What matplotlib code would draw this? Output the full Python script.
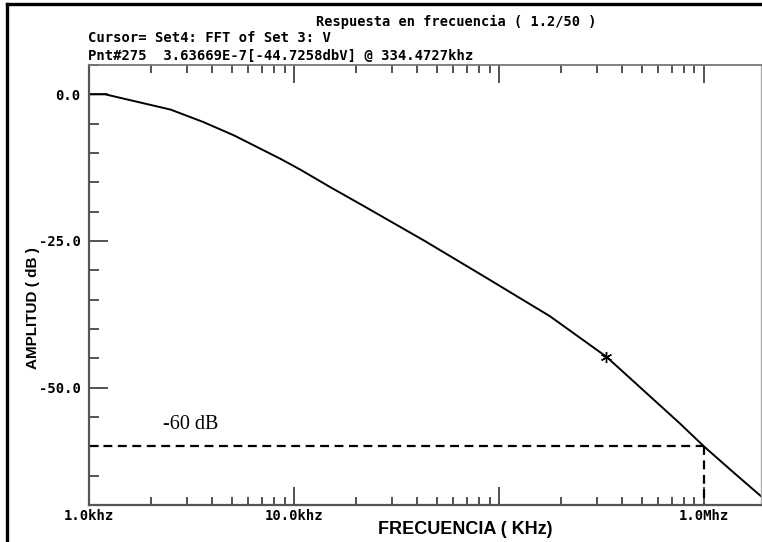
import matplotlib
matplotlib.use("Agg")
import matplotlib.pyplot as plt
from matplotlib.lines import Line2D
from matplotlib.font_manager import FontProperties
from matplotlib.ticker import FixedLocator, FixedFormatter, LogLocator, NullFormatter, MultipleLocator

# frequency response (kHz, dB)
freq_khz = [1.0, 1.2, 2.5, 3.6, 5.1, 8.6, 10.7, 15.0, 21.8, 43.5, 87.1, 177.0,
            334.4727, 764.0, 1000.0, 1390.0, 1900.0]
amp_db = [0.0, 0.0, -2.6, -4.7, -7.0, -11.0, -12.8, -15.8, -19.0, -25.0, -31.3, -37.8,
          -44.7258, -56.1, -60.0, -64.4, -68.5]

cursor_f = 334.4727
cursor_db = -44.7258
ref_db = -60.0
ref_f = 1000.0

x_ticks = [1.0, 10.0, 100.0, 1000.0]
x_ticklabels = ["1.0khz", "10.0khz", "", "1.0Mhz"]
y_ticks = [0.0, -25.0, -50.0]
y_ticklabels = ["0.0", "-25.0", "-50.0"]

mono = dict(family="DejaVu Sans Mono", weight="bold")
narrow = ["Liberation Sans Narrow", "Liberation Sans", "DejaVu Sans"]

W, H = 762, 542
fig = plt.figure(figsize=(W / 100, H / 100), dpi=100)
ax = fig.add_axes([89 / W, 1 - 505 / H, (761 - 89) / W, (505 - 65) / H])

ax.plot(freq_khz, amp_db, color="black", lw=1.4)
ax.plot([cursor_f], [cursor_db], marker=(6, 2, 0), ms=8, mew=1.0, color="black")

# -60 dB reference lines
ax.plot([freq_khz[0], ref_f], [ref_db, ref_db], color="black", lw=1.6, dashes=(4, 2.5))
ax.plot([ref_f, ref_f], [ref_db, -70], color="black", lw=1.6, dashes=(4, 2.5))
ax.text(2.3, -56.2, "-60 dB", family="Liberation Serif", fontsize=14.5, va="center", ha="left")

ax.set_xscale("log")
ax.set_xlim(1.0, 1900.0)
ax.set_ylim(-70, 5)

ax.xaxis.set_major_locator(FixedLocator(x_ticks))
ax.xaxis.set_major_formatter(FixedFormatter(x_ticklabels))
ax.xaxis.set_minor_locator(LogLocator(base=10, subs=range(2, 10)))
ax.xaxis.set_minor_formatter(NullFormatter())
ax.yaxis.set_major_locator(FixedLocator(y_ticks))
ax.yaxis.set_major_formatter(FixedFormatter(y_ticklabels))
ax.yaxis.set_minor_locator(MultipleLocator(5))

ax.tick_params(axis="x", which="both", direction="in", top=True, bottom=True,
               color="#444444", width=1.3, pad=3)
ax.tick_params(axis="x", which="major", length=13)
ax.tick_params(axis="x", which="minor", length=6)
ax.tick_params(axis="y", which="both", direction="in", left=True, right=False,
               color="#444444", width=1.3, pad=6)
ax.tick_params(axis="y", which="major", length=14)
ax.tick_params(axis="y", which="minor", length=7)
for lbl in ax.get_xticklabels() + ax.get_yticklabels():
    lbl.set_fontproperties(FontProperties(**mono, size=10))

for side, col, w in [("left", "#555555", 1.6), ("bottom", "#555555", 1.6),
                     ("top", "#777777", 1.3), ("right", "#aaaaaa", 1.0)]:
    ax.spines[side].set_color(col)
    ax.spines[side].set_linewidth(w)

fig.text(456 / W, 1 - 22 / H, "Respuesta en frecuencia ( 1.2/50 )", ha="center", va="center",
         fontsize=9.8, **mono)
fig.text(88 / W, 1 - 38 / H, "Cursor= Set4: FFT of Set 3: V", ha="left", va="center",
         fontsize=10, **mono)
fig.text(88 / W, 1 - 56 / H, "Pnt#275  3.63669E-7[-44.7258dbV] @ 334.4727khz", ha="left",
         va="center", fontsize=10, **mono)
fig.text(465 / W, 1 - 530 / H, "FRECUENCIA ( KHz)", ha="center", va="center",
         fontsize=13, family=narrow, weight="bold")
fig.text(33 / W, 1 - 308 / H, "AMPLITUD ( dB )", ha="center", va="center", rotation=90,
         fontsize=11, family=narrow, weight="bold")

# page border
fig.add_artist(Line2D([7 / W, 1.0], [1 - 4 / H, 1 - 4 / H], color="black", lw=2.4))
fig.add_artist(Line2D([7 / W, 7 / W], [0.0, 1 - 4 / H], color="black", lw=2.4))

fig.savefig("out.png", dpi=100)
